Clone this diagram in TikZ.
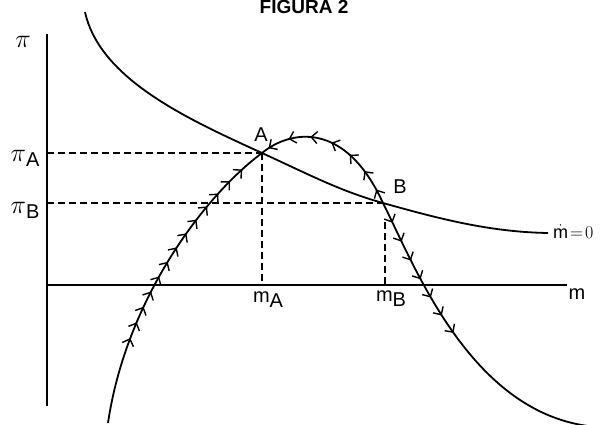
\RequirePackage{fix-cm}
\documentclass[tikz,border=0pt]{standalone}
\usepackage{amsmath}
\usepackage{fontspec}
\setmainfont{Liberation Sans}
\usetikzlibrary{arrows.meta, decorations.markings}

\tikzset{
  curve/.style={line width=1.8pt},
  axis/.style={line width=1.8pt},
  guide/.style={line width=1.4pt, dash pattern=on 7pt off 4pt},
  flow/.style n args={3}{curve, postaction={decorate},
    decoration={markings, mark=between positions #1 and #2 step #3 with
      {\arrow{Straight Barb[length=6pt,width=12pt,line width=1.4pt]}}}},
  lab/.style={font=\fontsize{20}{22}\selectfont, inner sep=0pt},
  pilab/.style={font=\fontsize{26}{26}\selectfont, inner sep=0pt},
}

\begin{document}
\begin{tikzpicture}[x=1pt, y=-1pt]
\useasboundingbox (0,0) rectangle (601,424);
% title
\node[font=\bfseries\fontsize{19}{19}\selectfont] (title) at (304,7) {FIGURA 2};

% axes
\coordinate (O) at (47,285);
\coordinate (ytop) at (47,34);
\coordinate (ybot) at (47,406);
\coordinate (xend) at (567,285);
\draw[axis] (ytop) -- (ybot);
\draw[axis] (O) -- (xend);

% equilibria
\coordinate (A) at (262,153);
\coordinate (B) at (383,203);
\coordinate (mBtop) at (385,222);

% dashed guides
\draw[guide] (O |- A) -- (A);
\draw[guide] (O |- B) -- (B);
\draw[guide] (A) -- (A |- O);
\draw[guide] (mBtop) -- (mBtop |- O);

% mdot = 0 locus
\draw[curve] (85,12) .. controls (100,80) and (190,120) .. (A)
  .. controls (310,175) and (340,191) .. (B)
  .. controls (440,219) and (490,232) .. (548,233);

% trajectory
\draw[flow={88pt}{300pt}{17pt}] (108,423) .. controls (126,300) and (204,196) .. (A);
\draw[flow={15pt}{160pt}{22pt}] (B) .. controls (345,120) and (290,130) .. (A);
\draw[flow={22pt}{150pt}{21pt}] (B) .. controls (415,267) and (470,410) .. (588,426);

% labels
\node[lab] (labA) at (261,135) {A};
\node[lab] (labB) at (400,187) {B};
\node[lab] (mA) at (268,300) {m\raisebox{-5pt}{A}};
\node[lab] (mB) at (391,299) {m\raisebox{-5pt}{B}};
\node[lab] (m) at (577,294) {m};
\node[pilab] (pi) at (23,42) {$\pi$};
\node[pilab] (piA) at (25,158) {$\pi$\raisebox{-5pt}{\fontsize{20}{22}\selectfont A}};
\node[pilab] (piB) at (25,210) {$\pi$\raisebox{-5pt}{\fontsize{20}{22}\selectfont B}};
\node[lab, anchor=west, font=\fontsize{18}{18}\selectfont] (mdot) at (553,232) {$\dot{\mathrm{m}}\!=\!0$};
\end{tikzpicture}
\end{document}
